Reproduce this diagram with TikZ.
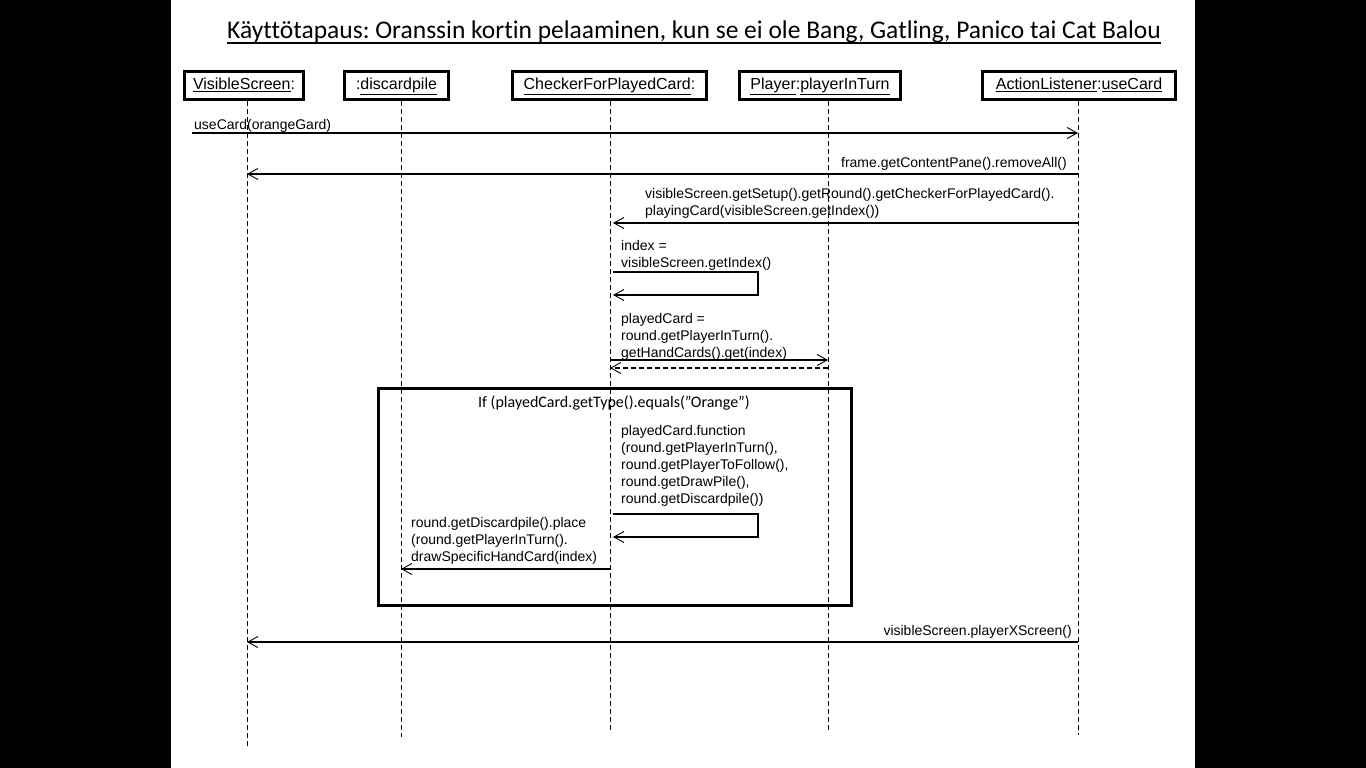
\documentclass[tikz,border=0pt]{standalone}
\usepackage{fontspec}
\setmainfont{Liberation Sans}
\newfontfamily\calib[Ligatures=NoCommon]{Carlito}
\usetikzlibrary{arrows.meta,calc}
\frenchspacing
\tikzset{
  objbox/.style={draw=black,line width=3.2pt,fill=white,inner sep=0pt,minimum height=28pt,text height=11.5pt,text depth=3pt,font=\fontsize{16}{19}\selectfont},
  life/.style={draw=black,line width=0.8pt,dash pattern=on 5pt off 3pt},
  msg/.style={draw=black,line width=1.1pt,-{Straight Barb[length=10pt,width=11pt,line width=0.9pt]}},
  ret/.style={msg,dash pattern=on 5pt off 3pt},
  lbl/.style={inner sep=0pt,font=\fontsize{14}{17}\selectfont,align=left},
  framebox/.style={draw=black,line width=3pt,inner sep=0pt},
}
\begin{document}
\begin{tikzpicture}[x=1pt,y=-1pt]
\useasboundingbox (0,0) rectangle (1366,768);
\fill[black] (0,0) rectangle (1366,768);
\fill[white] (171,0) rectangle (1195,768);

% title
\node[inner sep=0pt,anchor=base west,font=\calib\fontsize{25.5}{30}\selectfont] (title) at (227,39) {Käyttötapaus: Oranssin kortin pelaaminen, kun se ei ole Bang, Gatling, Panico tai Cat Balou};
\draw[line width=2pt] ($(title.base west)+(0,4.5)$) coordinate (tu1) -- ($(title.base east)+(0,4.5)$) coordinate (tu2);

% objects
\node[objbox,minimum width=119pt] (vs) at (244,85.5) {\underline{VisibleScreen}:};
\node[objbox,minimum width=104pt] (dp) at (396.5,85.5) {:\underline{discardpile}};
\node[objbox,minimum width=194pt] (ck) at (609.5,85.5) {\underline{CheckerForPlayedCard}:};
\node[objbox,minimum width=161pt] (pl) at (820,85.5) {\underline{Player}:\underline{playerInTurn}};
\node[objbox,minimum width=193pt] (al) at (1079,85.5) {\underline{ActionListener}:\underline{useCard}};

% lifeline ends
\coordinate (vsE) at (247,748);
\coordinate (dpE) at (401,737);
\coordinate (ckE) at (610,730);
\coordinate (plE) at (828,730);
\coordinate (alE) at (1078,735);
\draw[life] (vs.south -| vsE) -- (vsE);
\draw[life] (dp.south -| dpE) -- (dpE);
\draw[life] (ck.south -| ckE) -- (ckE);
\draw[life] (pl.south -| plE) -- (plE);
\draw[life] (al.south -| alE) -- (alE);

% frame
\node[framebox,minimum width=473pt,minimum height=217pt] (frame) at (614.5,497) {};
\node[inner sep=0pt,font=\calib\fontsize{16}{19}\selectfont] (ftitle) at (614,403) {If (playedCard.getType().equals(”Orange”)};

% message 1
\coordinate (m1a) at (192,133);
\coordinate (m1b) at (1078,133);
\draw[msg] (m1a) -- (m1b);
\node[lbl,anchor=base west] (l1) at (194,129) {useCard(orangeGard)};

% message 2
\coordinate (m2a) at (1078,174);
\coordinate (m2b) at (247,174);
\draw[msg] (m2a) -- (m2b);
\node[lbl,anchor=base east] (l2) at (1067,167) {frame.getContentPane().removeAll()};

% message 3
\coordinate (m3a) at (1078,223);
\coordinate (m3b) at (613,223);
\draw[msg] (m3a) -- (m3b);
\node[lbl,anchor=north west] (l3) at (645,188) {visibleScreen.getSetup().getRound().getCheckerForPlayedCard().\\playingCard(visibleScreen.getIndex())};

% message 4 self call
\coordinate (m4a) at (613,272);
\coordinate (m4r) at (758,272);
\coordinate (m4b) at (613,295);
\draw[msg] (m4a) -- (m4r) |- (m4b);
\node[lbl,anchor=north west] (l4) at (621,240) {index =\\visibleScreen.getIndex()};

% message 5
\coordinate (m5a) at (610,360);
\coordinate (m5b) at (828,360);
\draw[msg] (m5a) -- (m5b);
\coordinate (m6a) at (828,368);
\coordinate (m6b) at (610,368);
\draw[ret] (m6a) -- (m6b);
\node[lbl,anchor=north west] (l5) at (621,313) {playedCard =\\round.getPlayerInTurn().\\getHandCards().get(index)};

% message 7 self call
\coordinate (m7a) at (613,514);
\coordinate (m7r) at (758,514);
\coordinate (m7b) at (613,537);
\draw[msg] (m7a) -- (m7r) |- (m7b);
\node[lbl,anchor=north west] (l7) at (621,425) {playedCard.function\\(round.getPlayerInTurn(),\\round.getPlayerToFollow(),\\round.getDrawPile(),\\round.getDiscardpile())};

% message 8
\coordinate (m8a) at (610,569);
\coordinate (m8b) at (401,569);
\draw[msg] (m8a) -- (m8b);
\node[lbl,anchor=north west] (l8) at (411,517) {round.getDiscardpile().place\\(round.getPlayerInTurn().\\drawSpecificHandCard(index)};

% message 9
\coordinate (m9a) at (1078,642);
\coordinate (m9b) at (247,642);
\draw[msg] (m9a) -- (m9b);
\node[lbl,anchor=base east] (l9) at (1072,635) {visibleScreen.playerXScreen()};
\end{tikzpicture}
\end{document}
